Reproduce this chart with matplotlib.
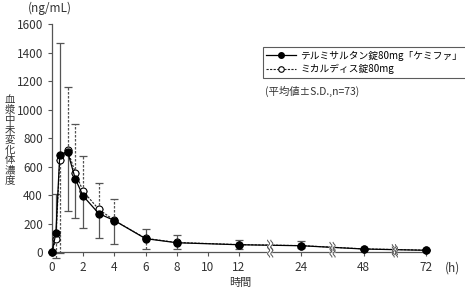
import numpy as np
import matplotlib
matplotlib.use("Agg")
import matplotlib.pyplot as plt
from matplotlib.transforms import ScaledTranslation

plt.rcParams['font.family'] = ['Noto Sans CJK JP', 'DejaVu Sans']

# sampling times (h)
times = [0, 0.25, 0.5, 1, 1.5, 2, 3, 4, 6, 8, 12, 24, 48, 72]

# テルミサルタン錠80mg「ケミファ」 (mean, ng/mL)
test_mean = [0, 132, 684, 705, 512, 393, 270, 221, 94, 65, 51, 44, 21, 12]
# SD drawn one side only: upper for some points, lower for others
test_up = [0, 273, 786, 0, 0, 0, 0, 0, 70, 54, 33, 36, 0, 0]
test_low = [0, 0, 0, 417, 276, 223, 174, 167, 0, 0, 0, 0, 0, 0]

# ミカルディス錠80mg (mean, ng/mL)
ref_mean = [0, 88, 649, 715, 556, 426, 300, 222, 96, 67, 52, 45, 22, 13]
ref_up = [0, 0, 0, 440, 344, 250, 184, 148, 0, 0, 0, 0, 0, 0]
ref_low = [0, 132, 659, 0, 0, 0, 0, 0, 73, 48, 33, 15, 0, 0]

xticks = [0, 2, 4, 6, 8, 10, 12, 24, 48, 72]
break_hours = [18, 36, 60]

# piecewise time axis: 0-12 linear, then 12->24->48->72 at equal spacing
knots_t = [-12, 0, 12, 24, 48, 72, 96]
knots_p = [-12, 0, 12, 16, 20, 24, 28]


def fwd(t):
    return np.interp(t, knots_t, knots_p)


def inv(p):
    return np.interp(p, knots_p, knots_t)


fig = plt.figure(figsize=(4.65, 2.93), dpi=100)
ax = fig.add_axes([0.1118, 0.1399, 0.81, 0.778])
ax.set_xscale('function', functions=(fwd, inv))

grey = '#555555'
ax.errorbar(times, test_mean, yerr=[test_low, test_up], fmt='none',
            ecolor=grey, elinewidth=0.9, capsize=3, capthick=0.9, clip_on=False)
eb = ax.errorbar(times, ref_mean, yerr=[ref_low, ref_up], fmt='none',
                 ecolor=grey, elinewidth=0.9, capsize=3, capthick=0.9, clip_on=False)
for lc in eb[2]:
    lc.set_linestyle((0, (2, 1.2)))

ax.plot(times, test_mean, color='black', lw=0.9, ls='-',
        marker='o', ms=5, mfc='black', mec='black', clip_on=False,
        label='テルミサルタン錠80mg「ケミファ」', zorder=5)
ax.plot(times, ref_mean, color='#222222', lw=0.8, ls=(0, (2, 1.2)),
        marker='o', ms=5, mfc='white', mec='black', mew=0.8, clip_on=False,
        label='ミカルディス錠80mg', zorder=4)

ax.set_xlim(0, 73)
ax.set_ylim(0, 1600)
ax.set_yticks(range(0, 1601, 200))
ax.set_xticks(xticks)
ax.set_xticklabels([str(t) for t in xticks])
ax.spines['top'].set_visible(False)
ax.spines['right'].set_visible(False)
for s in ['left', 'bottom']:
    ax.spines[s].set_color(grey)
    ax.spines[s].set_linewidth(0.9)
ax.tick_params(colors=grey, labelcolor='#333333', labelsize=8.5, length=3, width=0.8)


def draw_break(x, y):
    tr = fig.dpi_scale_trans + ScaledTranslation(x, y, ax.transData)
    s = np.linspace(-1, 1, 30)
    dy = s * 0.05
    for off in (-0.016, 0.016):
        dx = off + 0.01 * np.sin(np.pi * s * 1.5)
        ax.plot(dx, dy, color=grey, lw=0.7, transform=tr, clip_on=False, zorder=7)
    xl = -0.016 + 0.01 * np.sin(np.pi * s * 1.5)
    xr = 0.016 + 0.01 * np.sin(np.pi * s * 1.5)
    ax.fill(np.concatenate([xl, xr[::-1]]), np.concatenate([dy, dy[::-1]]),
            color='white', transform=tr, clip_on=False, zorder=6)


for bh in break_hours:
    draw_break(bh, 0)
    draw_break(bh, np.interp(bh, times, test_mean))

leg = fig.legend(loc='upper left', bbox_to_anchor=(0.5656, 0.8396),
                 fontsize=7, frameon=True, fancybox=False, edgecolor='#333333',
                 handlelength=3.0, borderpad=0.35, labelspacing=0.35, handletextpad=0.5,
                 borderaxespad=0)
leg.get_frame().set_linewidth(0.8)
for lh in leg.legend_handles:
    lh.set_markersize(4)

fig.text(265 / 465, 1 - 91 / 293, '(平均値±S.D.,n=73)', fontsize=7.5,
         color='#333333', va='center', ha='left')
fig.text(50 / 465, 1 - 8 / 293, '(ng/mL)', fontsize=8.5, color='#333333',
         va='center', ha='center')
fig.text(10 / 465, 1 - 140 / 293, '\n'.join('血漿中未変化体濃度'), fontsize=7.5,
         color='#333333', va='center', ha='center', linespacing=1.0)
fig.text(240 / 465, 1 - 283 / 293, '時間', fontsize=8, color='#333333',
         va='center', ha='center')
fig.text(452 / 465, 1 - 268 / 293, '(h)', fontsize=8.5, color='#333333',
         va='center', ha='center')

fig.savefig('out.png', dpi=100)
